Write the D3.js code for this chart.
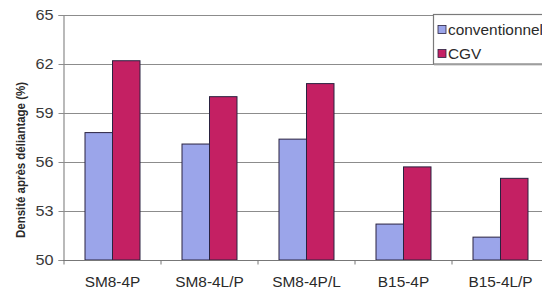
<!DOCTYPE html>
<html><head><meta charset="utf-8">
<script src="https://cdn.jsdelivr.net/npm/d3@7"></script>
<style>body{margin:0;background:#fff}svg{display:block}</style>
</head><body>
<svg id="c" width="542" height="293"></svg>
<script>
const categories = ["SM8-4P","SM8-4L/P","SM8-4P/L","B15-4P","B15-4L/P"];
const conventionnel = [57.8, 57.1, 57.4, 52.2, 51.4];
const cgv = [62.2, 60.0, 60.8, 55.7, 55.0];
const yTicks = [50, 53, 56, 59, 62, 65];
const seriesNames = ["conventionnel", "CGV"];
const colors = ["#9ba5ea", "#c42063"];

const FONT = "Liberation Sans, Arial, sans-serif";
const svg = d3.select("#c");
const x0 = 64, x1 = 549, yTop = 15, yBot = 260;
const x = d3.scaleBand().domain(categories).range([x0, x1]).paddingInner(0.433).paddingOuter(0.2165);
const xs = d3.scaleBand().domain(seriesNames).range([0, x.bandwidth()]);
const y = d3.scaleLinear().domain([50, 65]).range([yBot, yTop]);

function stretch(sel, f) {
  sel.each(function() {
    const w = this.getComputedTextLength();
    d3.select(this).attr("textLength", w * f).attr("lengthAdjust", "spacingAndGlyphs");
  });
}

// gridlines
svg.append("g").selectAll("line").data(yTicks.filter(t => t > 50)).join("line")
  .attr("x1", x0 - 1).attr("x2", 542).attr("y1", d => y(d) + 0.5).attr("y2", d => y(d) + 0.5)
  .attr("stroke", "#8c8c8c").attr("stroke-width", 1.2);

// y axis
const ya = svg.append("g").attr("transform", `translate(${x0 - 0.5},0)`)
  .call(d3.axisLeft(y).tickValues(yTicks).tickSize(5).tickPadding(5));
ya.select(".domain").attr("stroke", "#8c8c8c").attr("stroke-width", 1.2);
ya.selectAll(".tick line").attr("stroke", "#8c8c8c");
ya.selectAll("text").attr("font-family", FONT).attr("font-size", 14.5).attr("fill", "#3a3a3a");
stretch(ya.selectAll("text"), 1.12);

// bars
const data = categories.map((c, i) => ({c, vals: [conventionnel[i], cgv[i]]}));
const g = svg.append("g");
g.selectAll("g").data(data).join("g").attr("transform", d => `translate(${x(d.c)},0)`)
  .selectAll("rect").data(d => d.vals.map((v, j) => ({v, s: seriesNames[j], j}))).join("rect")
  .attr("x", d => xs(d.s)).attr("width", xs.bandwidth())
  .attr("y", d => y(d.v)).attr("height", d => y(50) - y(d.v))
  .attr("fill", d => colors[d.j]).attr("stroke", "#2a2240").attr("stroke-width", 1);

// x axis
const step = x.step();
const xa = svg.append("g").attr("transform", `translate(0,${yBot + 0.5})`);
xa.append("line").attr("x1", x0 - 1).attr("x2", 542).attr("stroke", "#777").attr("stroke-width", 1.2);
xa.selectAll(".tk").data(d3.range(categories.length + 1)).join("line").attr("class", "tk")
  .attr("x1", i => x0 + i * step).attr("x2", i => x0 + i * step).attr("y1", 0).attr("y2", 4)
  .attr("stroke", "#777");
const xl = xa.selectAll("text").data(categories).join("text")
  .attr("x", d => x(d) + x.bandwidth() / 2).attr("y", 26.5).attr("text-anchor", "middle")
  .attr("font-family", FONT).attr("font-size", 14).attr("fill", "#2a2a2a")
  .text(d => d);
stretch(xl, 1.1);

// y title
svg.append("text").attr("transform", "translate(25,160) rotate(-90)").attr("text-anchor", "middle")
  .attr("font-family", FONT).attr("font-size", 13.5).attr("font-weight", "bold")
  .attr("fill", "#2a2a2a").attr("textLength", 156).attr("lengthAdjust", "spacingAndGlyphs")
  .text("Densité après déliantage (%)");

// legend
const lg = svg.append("g");
lg.append("rect").attr("x", 433.5).attr("y", 14.5).attr("width", 130).attr("height", 49.5)
  .attr("fill", "#fff").attr("stroke", "#7a7a7a").attr("stroke-width", 1.2);
lg.append("line").attr("x1", 434).attr("x2", 542).attr("y1", 65).attr("y2", 65).attr("stroke", "#bbb");
seriesNames.forEach((s, i) => {
  const cy = 29.5 + i * 24;
  lg.append("rect").attr("x", 438).attr("y", cy - 4).attr("width", 8).attr("height", 8)
    .attr("fill", colors[i]).attr("stroke", "#2a2240").attr("stroke-width", 0.8);
  const t = lg.append("text").attr("x", 448).attr("y", cy + 5).attr("font-family", FONT)
    .attr("font-size", 14).attr("fill", "#2a2a2a").text(s);
  stretch(t, 1.1);
});
</script>
</body></html>
